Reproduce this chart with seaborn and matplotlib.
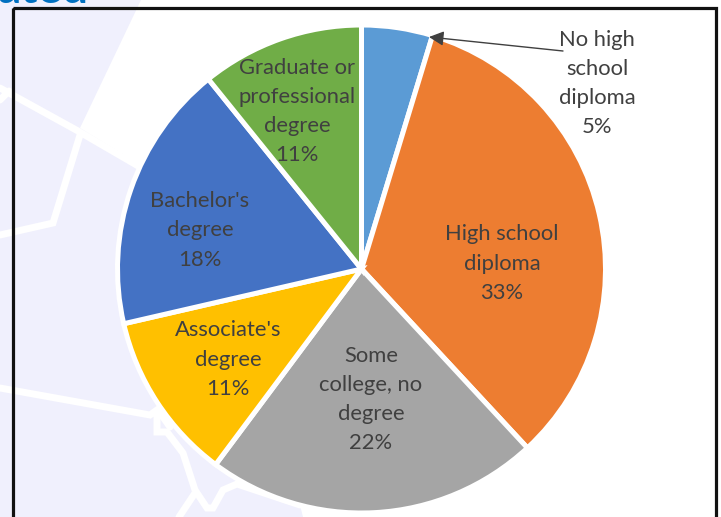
import matplotlib
matplotlib.use('Agg')
import matplotlib.pyplot as plt
from matplotlib.patches import Polygon, Rectangle
import seaborn as sns

# Data, slice sizes (labels show them rounded)
categories = ['No high\nschool\ndiploma', 'High school\ndiploma', 'Some\ncollege, no\ndegree',
              "Associate's\ndegree", "Bachelor's\ndegree", 'Graduate or\nprofessional\ndegree']
shares = [4.7, 33.4, 22.1, 11.2, 17.8, 10.8]
colors = ['#5B9BD5', '#ED7D31', '#A5A5A5', '#FFC000', '#4472C4', '#70AD47']

# Label anchors in image pixels
label_xy = [(597, 83.5), (502, 263.5), (371, 399.5), (228, 359.5), (200, 230.5), (297, 111.5)]

sns.set_theme(style='white')
plt.rcParams['font.family'] = ['Lato', 'DejaVu Sans']

W, H = 721, 517
fig = plt.figure(figsize=(W / 100, H / 100), dpi=100, facecolor='white')

# Backdrop layer, in pixel coordinates
bg = fig.add_axes([0, 0, 1, 1], zorder=0)
bg.set_xlim(0, W)
bg.set_ylim(H, 0)
bg.axis('off')

lavender = '#F0F0FD'
bg.add_patch(Polygon([(0, 0), (141, 0), (80, 128), (140, 165), (200, 300), (300, 505),
                      (303, 517), (0, 517)], closed=True, fc=lavender, ec='none'))

roads = [
    [(0, 88), (78, 131), (140, 167)],
    [(80, 135), (53, 223), (0, 235)],
    [(0, 100), (9, 91)],
    [(0, 388), (150, 415), (157, 410), (157, 432), (167, 432), (183, 453), (195, 490),
     (207, 508), (213, 508), (223, 490), (237, 484), (267, 494), (300, 505)],
    [(195, 493), (179, 517)],
    [(170, 427), (158, 410)],
]
for road in roads:
    bg.plot(*zip(*road), color='white', lw=5, solid_joinstyle='miter', zorder=2)

# Chart frame, runs off the bottom of the crop
bg.add_patch(Rectangle((12.5, 8), 703, 530, fc='none', ec='#111111', lw=2.3, zorder=3))

# Cut off heading at the very top
bg.text(-2, 3, 'ated', color='#0070C0', fontsize=33, fontweight='bold', ha='left',
        va='baseline', zorder=3, clip_on=True)

# Pie layer
cx, cy, r = 361.5, 269, 244
ax = fig.add_axes([(cx - r) / W, 1 - (cy + r) / H, 2 * r / W, 2 * r / H], zorder=1)
ax.patch.set_alpha(0)
ax.pie(shares, colors=colors, startangle=90, counterclock=False, radius=1,
       wedgeprops={'edgecolor': 'white', 'linewidth': 3.6})
ax.set_xlim(-1, 1)
ax.set_ylim(-1, 1)

# Labels on top
top = fig.add_axes([0, 0, 1, 1], zorder=2)
top.set_xlim(0, W)
top.set_ylim(H, 0)
top.axis('off')
for name, share, (x, y) in zip(categories, shares, label_xy):
    top.text(x, y, f'{name}\n{share:.0f}%', ha='center', va='center', color='#404040',
             fontsize=15.8, linespacing=1.58)

top.annotate('', xy=(429, 37), xytext=(563, 51),
             arrowprops=dict(arrowstyle='-|>', color='#404040', lw=1, mutation_scale=22,
                             shrinkA=0, shrinkB=0))

fig.savefig('out.png', dpi=100)
